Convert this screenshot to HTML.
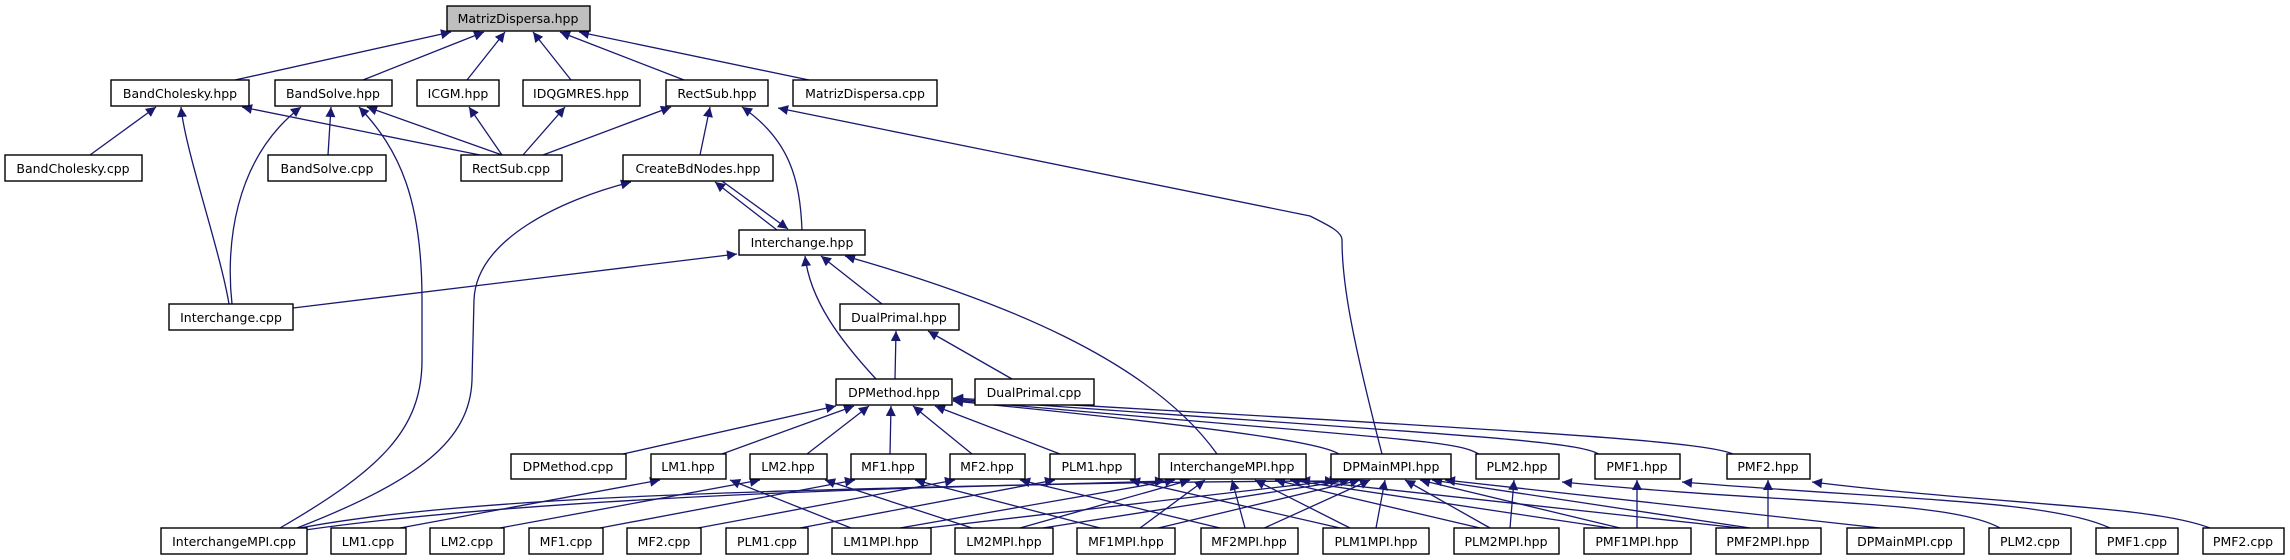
<!DOCTYPE html>
<html><head><meta charset="utf-8"><style>
html,body{margin:0;padding:0;background:#fff;}
svg{display:block;}
text{font-family:"DejaVu Sans","Liberation Sans",sans-serif;font-size:12.5px;fill:#000;text-anchor:middle;}
.e{fill:none;stroke:#191970;stroke-width:1.3;marker-end:url(#a);}
.n rect{fill:#fff;stroke:#000;stroke-width:1.4;}
</style></head><body>
<svg width="2290" height="560" viewBox="0 0 2290 560" xmlns="http://www.w3.org/2000/svg">
<defs><marker id="a" viewBox="0 0 10 10" refX="10" refY="5" markerWidth="11" markerHeight="10" markerUnits="userSpaceOnUse" orient="auto"><path d="M0,0 L10,5 L0,10 z" fill="#191970"/></marker></defs>
<g>
<path class="e" d="M235,80 L451,32"/>
<path class="e" d="M363,80 L484,32"/>
<path class="e" d="M467,80 L505,32"/>
<path class="e" d="M571,80 L533,32"/>
<path class="e" d="M684,80 L560,32"/>
<path class="e" d="M809,80 L579,32"/>
<path class="e" d="M90,155 L156,107"/>
<path class="e" d="M480,155 L242,107"/>
<path class="e" d="M229,304 C220,250 185,150 181,107"/>
<path class="e" d="M328,155 L331,107"/>
<path class="e" d="M232,304 C226,250 232,160 301,107"/>
<path class="e" d="M280,528 C380,470 422,430 422,360 L422,300 C422,200 400,150 359,107"/>
<path class="e" d="M502,155 L367,107"/>
<path class="e" d="M502,155 L469,107"/>
<path class="e" d="M523,155 L565,107"/>
<path class="e" d="M543,155 L671,107"/>
<path class="e" d="M700,155 L710,107"/>
<path class="e" d="M802,230 C800,180 790,140 742,107"/>
<path class="e" d="M1382,454 C1350,330 1342,280 1342,240 C1342,232 1330,226 1310,216 L778,108"/>
<path class="e" d="M777,230 L715,182"/>
<path class="e" d="M722,181 L788,229"/>
<path class="e" d="M297,528 C420,480 470,440 472,380 L474,300 C476,240 560,200 631,182"/>
<path class="e" d="M293,308 L737,254"/>
<path class="e" d="M882,304 L821,256"/>
<path class="e" d="M876,379 C840,340 810,300 805,256"/>
<path class="e" d="M1217,454 C1150,360 1000,300 845,256"/>
<path class="e" d="M895,379 L896,331"/>
<path class="e" d="M1012,379 L928,331"/>
<path class="e" d="M623,454 L836,406"/>
<path class="e" d="M722,454 L854,406"/>
<path class="e" d="M807,454 L869,406"/>
<path class="e" d="M890,454 L891,406"/>
<path class="e" d="M972,454 L913,406"/>
<path class="e" d="M1060,454 L935,406"/>
<path class="e" d="M1340,455 C1330,445 1250,430 953,401"/>
<path class="e" d="M1480,455 C1460,440 1400,440 953,400"/>
<path class="e" d="M1600,455 C1580,440 1450,435 953,399"/>
<path class="e" d="M1735,455 C1710,440 1500,430 953,398"/>
<path class="e" d="M400,528 L660,480"/>
<path class="e" d="M851,528 L730,480"/>
<path class="e" d="M500,528 L760,480"/>
<path class="e" d="M972,528 L825,480"/>
<path class="e" d="M600,528 L855,480"/>
<path class="e" d="M1100,528 L915,480"/>
<path class="e" d="M698,528 L955,480"/>
<path class="e" d="M1220,528 L1020,480"/>
<path class="e" d="M800,528 L1055,480"/>
<path class="e" d="M1340,528 L1130,480"/>
<path class="e" d="M1510,528 L1514,480"/>
<path class="e" d="M2000,528 C1950,500 1800,505 1562,482"/>
<path class="e" d="M1637,528 L1637,480"/>
<path class="e" d="M2110,528 C2050,500 1900,500 1682,482"/>
<path class="e" d="M1768,528 L1768,480"/>
<path class="e" d="M2210,528 C2150,505 2000,505 1812,482"/>
<path class="e" d="M300,528 C500,490 900,490 1165,481"/>
<path class="e" d="M900,528 L1175,480"/>
<path class="e" d="M1020,528 L1190,480"/>
<path class="e" d="M1140,528 L1205,480"/>
<path class="e" d="M1245,528 L1232,480"/>
<path class="e" d="M1350,528 L1255,480"/>
<path class="e" d="M1480,528 L1275,480"/>
<path class="e" d="M1610,528 L1290,480"/>
<path class="e" d="M1740,528 L1300,480"/>
<path class="e" d="M305,530 C550,495 1000,482 1335,481"/>
<path class="e" d="M910,530 L1340,480"/>
<path class="e" d="M1030,530 L1350,480"/>
<path class="e" d="M1150,530 L1360,480"/>
<path class="e" d="M1260,530 L1370,480"/>
<path class="e" d="M1376,528 L1385,480"/>
<path class="e" d="M1490,528 L1405,480"/>
<path class="e" d="M1620,528 L1420,480"/>
<path class="e" d="M1750,528 L1432,480"/>
<path class="e" d="M1880,528 L1445,480"/>
</g>
<g class="n">
<rect x="447" y="6" width="143" height="25" style="fill:#bfbfbf"/><text x="518" y="23">MatrizDispersa.hpp</text>
<rect x="111" y="80" width="138" height="26"/><text x="180" y="98">BandCholesky.hpp</text>
<rect x="275" y="80" width="117" height="26"/><text x="333" y="98">BandSolve.hpp</text>
<rect x="417" y="80" width="82" height="26"/><text x="458" y="98">ICGM.hpp</text>
<rect x="523" y="80" width="117" height="26"/><text x="581" y="98">IDQGMRES.hpp</text>
<rect x="666" y="80" width="102" height="26"/><text x="717" y="98">RectSub.hpp</text>
<rect x="793" y="80" width="144" height="26"/><text x="865" y="98">MatrizDispersa.cpp</text>
<rect x="5" y="155" width="137" height="26"/><text x="73" y="173">BandCholesky.cpp</text>
<rect x="268" y="155" width="118" height="26"/><text x="327" y="173">BandSolve.cpp</text>
<rect x="461" y="155" width="101" height="26"/><text x="511" y="173">RectSub.cpp</text>
<rect x="623" y="155" width="150" height="26"/><text x="698" y="173">CreateBdNodes.hpp</text>
<rect x="739" y="230" width="126" height="25"/><text x="802" y="247">Interchange.hpp</text>
<rect x="169" y="304" width="124" height="26"/><text x="231" y="322">Interchange.cpp</text>
<rect x="840" y="304" width="119" height="26"/><text x="899" y="322">DualPrimal.hpp</text>
<rect x="836" y="379" width="116" height="26"/><text x="894" y="397">DPMethod.hpp</text>
<rect x="975" y="379" width="119" height="26"/><text x="1034" y="397">DualPrimal.cpp</text>
<rect x="511" y="454" width="115" height="25"/><text x="568" y="471">DPMethod.cpp</text>
<rect x="651" y="454" width="75" height="25"/><text x="688" y="471">LM1.hpp</text>
<rect x="750" y="454" width="77" height="25"/><text x="788" y="471">LM2.hpp</text>
<rect x="851" y="454" width="75" height="25"/><text x="888" y="471">MF1.hpp</text>
<rect x="950" y="454" width="75" height="25"/><text x="987" y="471">MF2.hpp</text>
<rect x="1050" y="454" width="85" height="25"/><text x="1092" y="471">PLM1.hpp</text>
<rect x="1159" y="454" width="147" height="25"/><text x="1232" y="471">InterchangeMPI.hpp</text>
<rect x="1331" y="454" width="120" height="25"/><text x="1391" y="471">DPMainMPI.hpp</text>
<rect x="1476" y="454" width="83" height="25"/><text x="1517" y="471">PLM2.hpp</text>
<rect x="1595" y="454" width="85" height="25"/><text x="1637" y="471">PMF1.hpp</text>
<rect x="1727" y="454" width="83" height="25"/><text x="1768" y="471">PMF2.hpp</text>
<rect x="161" y="528" width="146" height="26"/><text x="234" y="546">InterchangeMPI.cpp</text>
<rect x="331" y="528" width="75" height="26"/><text x="368" y="546">LM1.cpp</text>
<rect x="430" y="528" width="74" height="26"/><text x="467" y="546">LM2.cpp</text>
<rect x="529" y="528" width="74" height="26"/><text x="566" y="546">MF1.cpp</text>
<rect x="627" y="528" width="74" height="26"/><text x="664" y="546">MF2.cpp</text>
<rect x="726" y="528" width="82" height="26"/><text x="767" y="546">PLM1.cpp</text>
<rect x="832" y="528" width="99" height="26"/><text x="881" y="546">LM1MPI.hpp</text>
<rect x="955" y="528" width="98" height="26"/><text x="1004" y="546">LM2MPI.hpp</text>
<rect x="1077" y="528" width="98" height="26"/><text x="1126" y="546">MF1MPI.hpp</text>
<rect x="1201" y="528" width="97" height="26"/><text x="1249" y="546">MF2MPI.hpp</text>
<rect x="1323" y="528" width="106" height="26"/><text x="1376" y="546">PLM1MPI.hpp</text>
<rect x="1454" y="528" width="105" height="26"/><text x="1506" y="546">PLM2MPI.hpp</text>
<rect x="1584" y="528" width="107" height="26"/><text x="1637" y="546">PMF1MPI.hpp</text>
<rect x="1716" y="528" width="105" height="26"/><text x="1768" y="546">PMF2MPI.hpp</text>
<rect x="1847" y="528" width="117" height="26"/><text x="1905" y="546">DPMainMPI.cpp</text>
<rect x="1989" y="528" width="82" height="26"/><text x="2030" y="546">PLM2.cpp</text>
<rect x="2096" y="528" width="82" height="26"/><text x="2137" y="546">PMF1.cpp</text>
<rect x="2203" y="528" width="81" height="26"/><text x="2243" y="546">PMF2.cpp</text>
</g>
</svg>
</body></html>
